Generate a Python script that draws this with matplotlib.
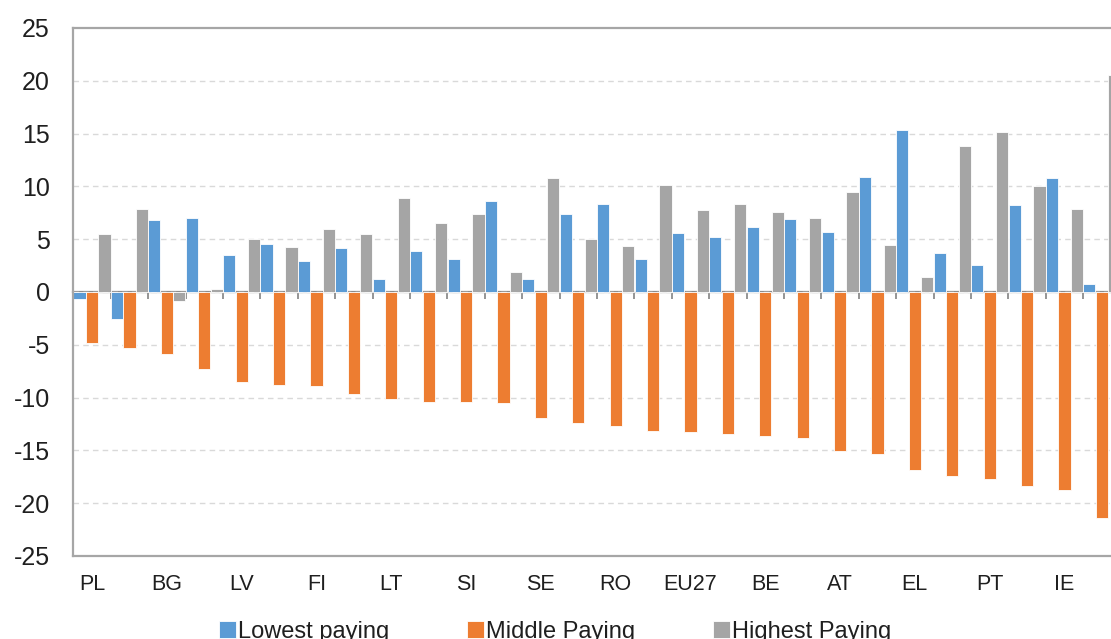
import matplotlib.pyplot as plt
import numpy as np

plt.rcParams["font.family"] = ["Liberation Sans", "DejaVu Sans"]
plt.rcParams["axes.unicode_minus"] = False

# Countries sorted by change in middle paying jobs (every other label is shown)
countries = [
    "PL", "HU", "BG", "CZ", "LV", "SK", "FI", "EE", "LT", "HR",
    "SI", "MT", "SE", "LU", "RO", "NL", "EU27", "FR", "BE", "DE",
    "AT", "CY", "EL", "ES", "PT", "IT", "IE", "DK",
]
lowest_paying = [
    -0.66, -2.56, 6.77, 6.99, 3.51, 4.56, 2.97, 4.15, 1.27, 3.92,
    3.10, 8.64, 1.27, 7.34, 8.29, 3.10, 5.60, 5.16, 6.14, 6.93,
    5.70, 10.92, 15.33, 3.65, 2.60, 8.25, 10.83, 0.76,
]
middle_paying = [
    -4.80, -5.28, -5.91, -7.30, -8.53, -8.82, -8.91, -9.67, -10.18, -10.43,
    -10.43, -10.56, -11.98, -12.39, -12.67, -13.21, -13.31, -13.46, -13.65, -13.84,
    -15.10, -15.36, -16.88, -17.41, -17.73, -18.33, -18.74, -21.37,
]
highest_paying = [
    5.47, 7.82, -0.89, 0.32, 5.03, 4.27, 5.95, 5.50, 8.92, 6.55,
    7.34, 1.93, 10.76, 5.06, 4.37, 10.09, 7.72, 8.35, 7.53, 6.96,
    9.43, 4.46, 1.46, 13.78, 15.11, 10.06, 7.90, 20.54,
]

BLUE = "#5B9BD5"
ORANGE = "#ED7D31"
GREY = "#A5A5A5"
FRAME = "#A6A6A6"
TEXT = "#1f1f1f"


def main() -> None:
    fig = plt.figure(figsize=(11.11, 6.39), dpi=100)
    # axes run slightly past the right edge, as in the cropped original
    ax = fig.add_axes([0.066, 0.130, 0.9426, 0.8262])

    x = np.arange(len(countries))
    step = 0.333
    width = 0.325
    bar_kw = dict(width=width, edgecolor="white", linewidth=0.6, zorder=2)
    ax.bar(x - step, lowest_paying, color=BLUE, label="Lowest paying", **bar_kw)
    ax.bar(x, middle_paying, color=ORANGE, label="Middle Paying", **bar_kw)
    ax.bar(x + step, highest_paying, color=GREY, label="Highest Paying", **bar_kw)

    ax.set_xlim(-0.5, len(countries) - 0.5)
    ax.set_ylim(-25, 25)
    ax.set_yticks(range(-25, 30, 5))
    ax.tick_params(axis="y", length=0, pad=17, labelsize=18, labelcolor=TEXT)

    ax.set_xticks(x[::2])
    ax.set_xticklabels(countries[::2])
    ax.tick_params(axis="x", length=0, pad=13, labelsize=15.5, labelcolor=TEXT)

    for y in range(-20, 25, 5):
        ax.axhline(y, color="#D9D9D9", linewidth=1, linestyle=(0, (4, 3)), zorder=1)

    for spine in ax.spines.values():
        spine.set_color(FRAME)
        spine.set_linewidth(1.6)

    # zero line with tick marks between categories
    zero = ax.secondary_xaxis(0.5)
    zero.set_xticks(np.arange(0.5, len(countries) - 0.5, 1.0))
    zero.set_xticklabels([])
    zero.tick_params(axis="x", direction="in", length=5, width=1.3, color="#8C8C8C")
    for spine in zero.spines.values():
        spine.set_color("#8C8C8C")
        spine.set_linewidth(1.6)

    fig.legend(
        loc="center",
        bbox_to_anchor=(0.5, 0.011),
        ncol=3,
        frameon=False,
        fontsize=17,
        handlelength=0.7,
        handleheight=0.7,
        handletextpad=0.1,
        columnspacing=3.3,
        borderpad=0,
        labelcolor=TEXT,
    )

    fig.savefig("out.png", dpi=100)
    plt.close(fig)


if __name__ == "__main__":
    main()
